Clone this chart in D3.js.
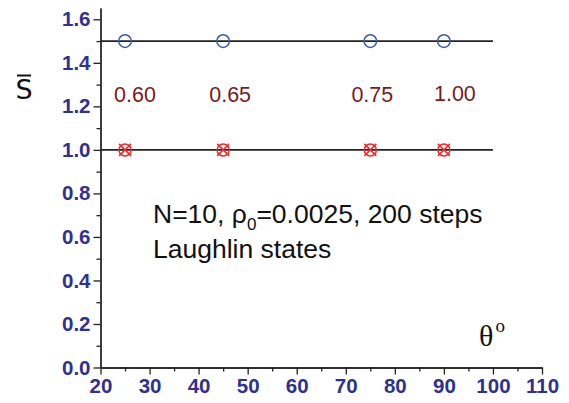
<!DOCTYPE html>
<html>
<head>
<meta charset="utf-8">
<script src="https://cdn.jsdelivr.net/npm/d3@7"></script>
<style>
  body { margin: 0; background: #fff; }
  .axis text { font-family: "Liberation Sans", Arial, sans-serif; font-weight: bold; font-size: 20.5px; fill: #2e3192; }
  .axis path, .axis line { stroke: #222; stroke-width: 1.3; }
</style>
</head>
<body>
<div id="chart"></div>
<script>
// data
const thetas = [25, 45, 75, 90];
const upperS = [1.5, 1.5, 1.5, 1.5];
const lowerS = [1.0, 1.0, 1.0, 1.0];
const fillLabels = ["0.60", "0.65", "0.75", "1.00"];
const refLines = [1.5, 1.0];
const xTicks = [20, 30, 40, 50, 60, 70, 80, 90, 100, 110];
const yTicks = [0, 0.2, 0.4, 0.6, 0.8, 1.0, 1.2, 1.4, 1.6];

const W = 569, H = 403;

const svg = d3.select("#chart").append("svg")
    .attr("width", W)
    .attr("height", H);

const x = d3.scaleLinear().domain([20, 110]).range([100.5, 542]);
const y = d3.scaleLinear().domain([0, 1.652]).range([367.5, 8]);

// minor ticks first
svg.append("g")
    .attr("class", "axis")
    .attr("transform", "translate(0,367.5)")
    .call(d3.axisBottom(x).tickValues(d3.range(25, 110, 10)).tickSize(4).tickSizeOuter(0).tickFormat(""));
svg.append("g")
    .attr("class", "axis")
    .attr("transform", "translate(100.5,0)")
    .call(d3.axisLeft(y).tickValues(d3.range(0.1, 1.6, 0.2)).tickSize(4).tickSizeOuter(0).tickFormat(""));

// major axes
svg.append("g")
    .attr("class", "axis")
    .attr("transform", "translate(0,367.5)")
    .call(d3.axisBottom(x).tickValues(xTicks).tickSize(7).tickSizeOuter(0).tickPadding(4))
    .selectAll("text").attr("dy", "0.72em");

svg.append("g")
    .attr("class", "axis")
    .attr("transform", "translate(100.5,0)")
    .call(d3.axisLeft(y).tickValues(yTicks).tickSize(7).tickSizeOuter(0).tickPadding(3).tickFormat(d3.format(".1f")));

// reference lines
svg.selectAll(".ref")
    .data(refLines)
    .enter()
    .append("line")
    .attr("x1", x(20))
    .attr("x2", x(100))
    .attr("y1", d => y(d))
    .attr("y2", d => y(d))
    .attr("stroke", "#222")
    .attr("stroke-width", 1.6);

// open blue circles
svg.selectAll(".up")
    .data(thetas)
    .enter()
    .append("circle")
    .attr("cx", d => x(d))
    .attr("cy", (d, i) => y(upperS[i]))
    .attr("r", 6.3)
    .attr("fill", "none")
    .attr("stroke", "#3a5bb0")
    .attr("stroke-width", 1.5);

// red crossed circles
const red = svg.selectAll(".low")
    .data(thetas)
    .enter()
    .append("g")
    .attr("transform", (d, i) => "translate(" + x(d) + "," + y(lowerS[i]) + ")");
red.append("circle")
    .attr("r", 6)
    .attr("fill", "none")
    .attr("stroke", "#ee2a2a")
    .attr("stroke-width", 1.5);
red.append("path")
    .attr("d", "M-6,-6L6,6M-6,6L6,-6")
    .attr("stroke", "#ee2a2a")
    .attr("stroke-width", 1.5);

// filling labels
svg.selectAll(".fl")
    .data(thetas)
    .enter()
    .append("text")
    .attr("x", (d, i) => x(d) + [10, 7, 2, 11][i])
    .attr("y", (d, i) => i === 3 ? 100.5 : 101.5)
    .attr("text-anchor", "middle")
    .style("font-family", "Liberation Sans, Arial, sans-serif")
    .style("font-size", "21.5px")
    .attr("fill", "#7a1a1a")
    .text(d => fillLabels[thetas.indexOf(d)]);

// annotation
const note = svg.append("text")
    .attr("x", 153)
    .attr("y", 223)
    .style("font-family", "Liberation Sans, Arial, sans-serif")
    .style("font-size", "26.5px")
    .attr("fill", "#111");
note.append("tspan").text("N=10, ");
note.append("tspan").text("ρ");
note.append("tspan").attr("dy", 7).style("font-size", "17px").text("0");
note.append("tspan").attr("dy", -7).text("=0.0025, 200 steps");

svg.append("text")
    .attr("x", 153)
    .attr("y", 258)
    .style("font-family", "Liberation Sans, Arial, sans-serif")
    .style("font-size", "26.5px")
    .attr("fill", "#111")
    .text("Laughlin states");

// axis labels
const xl = svg.append("text")
    .attr("x", 479)
    .attr("y", 346)
    .style("font-family", "Liberation Serif, Times New Roman, serif")
    .style("font-size", "30px")
    .attr("fill", "#111");
xl.append("tspan").text("θ");
xl.append("tspan").attr("dx", 2).attr("dy", -14).style("font-size", "19px").text("o");

svg.append("text")
    .attr("x", 24)
    .attr("y", 99)
    .attr("text-anchor", "middle")
    .style("font-family", "DejaVu Sans, sans-serif")
    .style("font-size", "27px")
    .attr("fill", "#111")
    .text("S");
svg.append("line")
    .attr("x1", 17).attr("x2", 31)
    .attr("y1", 75.5).attr("y2", 75.5)
    .attr("stroke", "#111")
    .attr("stroke-width", 2);
</script>
</body>
</html>
